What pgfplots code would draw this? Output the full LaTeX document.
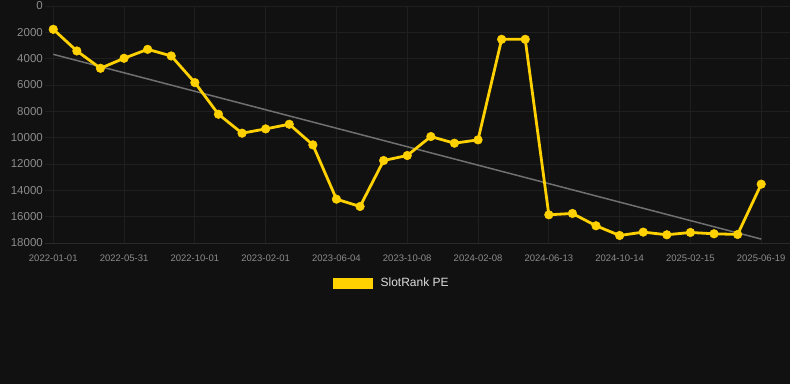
\documentclass[border=0pt]{standalone}
\usepackage{pgfplots}
\pgfplotsset{compat=1.18}
\usepackage{fontspec}
\setmainfont{Liberation Sans}
\definecolor{bg}{HTML}{111111}
\definecolor{gridc}{HTML}{1F1F1F}
\definecolor{axisc}{HTML}{2A2A2A}
\definecolor{ticklab}{HTML}{8C8C8C}
\definecolor{gold}{HTML}{FFD100}
\definecolor{trend}{HTML}{707070}
\definecolor{legtext}{HTML}{DDDDDD}
\begin{document}
\begin{tikzpicture}
\useasboundingbox (0pt,0pt) rectangle (790pt,384pt);
\fill[bg] (0pt,0pt) rectangle (790pt,384pt);
\begin{axis}[
  at={(45pt,141pt)}, anchor=south west,
  scale only axis, width=745pt, height=237pt,
  xmin=-0.35, xmax=31.22,
  ymin=0, ymax=18000, y dir=reverse,
  ytick={0,2000,...,18000},
  xtick={0,3,...,30},
  xticklabels={2022-01-01,2022-05-31,2022-10-01,2023-02-01,2023-06-04,2023-10-08,2024-02-08,2024-06-13,2024-10-14,2025-02-15,2025-06-19},
  grid=major, major grid style={gridc, line width=0.9pt},
  axis line style={draw=none},
  major tick length=0pt,
  scaled y ticks=false,
  /pgf/number format/.cd, 1000 sep={}, assume math mode=true,
  /pgfplots/.cd,
  yticklabel style={font=\fontsize{11.5}{13}\selectfont, text=ticklab, anchor=east, inner sep=0pt, xshift=-2pt},
  xticklabel style={font=\fontsize{9.5}{11}\selectfont, text=ticklab, yshift=-8.5pt},
  legend style={at={(0.3866,-0.169)}, anchor=west, draw=none, fill=none, text=legtext, font=\fontsize{12}{14}\selectfont, inner sep=0pt},
  legend image code/.code={\path[fill=gold, draw=none] (0pt,-5.5pt) rectangle (40pt,5.5pt); \path (44pt,0pt);},
]
\addplot[axisc, line width=0.9pt, forget plot] coordinates {(-0.35,18000) (31.22,18000)};
\addplot[trend, line width=1.5pt, forget plot] coordinates {(0,3670) (30,17700)};
\addplot[gold, line width=2.8pt, mark=*, mark size=4.3pt, mark options={fill=gold, draw=gold, line width=0.5pt}] coordinates {
(0,1770) (1,3414) (2,4730) (3,3970) (4,3290) (5,3794) (6,5817) (7,8220) (8,9660) (9,9333)
(10,8980) (11,10546) (12,14670) (13,15226) (14,11735) (15,11355) (16,9913) (17,10420) (18,10167) (19,2530)
(20,2530) (21,15857) (22,15756) (23,16692) (24,17428) (25,17173) (26,17375) (27,17200) (28,17300) (29,17350)
(30,13530)};
\addlegendentry{SlotRank PE}
\end{axis}
\end{tikzpicture}
\end{document}
